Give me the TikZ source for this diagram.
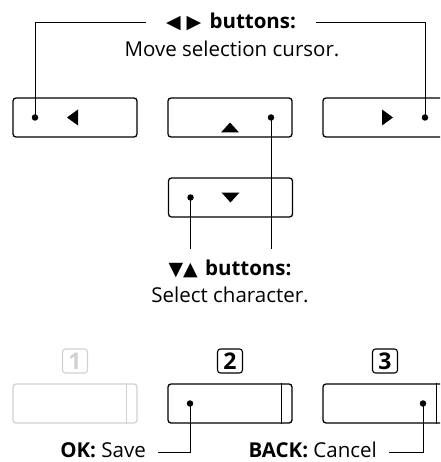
\documentclass[tikz,border=0pt]{standalone}
\usepackage{fontspec}
\setmainfont{Open Sans}
\newfontfamily\symfont{DejaVu Sans}
\definecolor{dimgrey}{gray}{0.82}
\tikzset{
  btn/.style={draw,line width=1.3pt,rounded corners=3pt,minimum width=124pt,minimum height=39pt,inner sep=0pt},
  dimbtn/.style={btn,draw=dimgrey},
  numkey/.style={draw,line width=1.1pt,rounded corners=3pt,minimum width=25pt,minimum height=24pt,inner sep=0pt,font=\fontsize{23}{23}\selectfont\bfseries},
  dot/.style={circle,fill,inner sep=0pt,minimum size=6.5pt},
  hdr/.style={font=\fontsize{20.5}{20.5}\selectfont\bfseries,anchor=base,inner xsep=20pt,inner ysep=10pt},
  lbl/.style={font=\fontsize{20.5}{20.5}\selectfont,anchor=base},
  conn/.style={line width=1pt}
}
\newcommand\tri[1]{{\symfont\fontsize{19}{19}\selectfont #1}}

\begin{document}
\begin{tikzpicture}[x=1pt,y=-1pt]
  \useasboundingbox (0,0) rectangle (440,462);
  \clip (0,0) rectangle (440,462);

  % cursor and character buttons
  \node[btn] (bL) at (75,117.5) {};
  \node[btn] (bU) at (230,117.5) {};
  \node[btn] (bR) at (385,117.5) {};
  \node[btn] (bD) at (230.5,197.5) {};
  \fill ([xshift=-8pt]bL.center) -- ++(11,-8) -- ++(0,16) -- cycle;
  \fill ([xshift=8pt]bR.center) -- ++(-11,-8) -- ++(0,16) -- cycle;
  \fill ([yshift=-5pt]bU.center) -- ++(-9,10) -- ++(18,0) -- cycle;
  \fill ([yshift=-5pt]bD.center) -- ++(-9,-10) -- ++(18,0) -- cycle;
  \node[dot] (dL) at ([xshift=-40pt]bL.center) {};
  \node[dot] (dU) at ([xshift=41pt]bU.center) {};
  \node[dot] (dR) at ([xshift=40pt]bR.center) {};
  \node[dot] (dD) at ([xshift=-40pt]bD.center) {};

  % labels
  \node[hdr] (hdrLR) at (231,29) {\tri{◀}\hspace{6pt}\tri{▶}\hspace{3pt} buttons:};
  \node[lbl] (txtLR) at (232,57) {Move selection cursor.};
  \node[hdr] (hdrUD) at (230,275) {\tri{▼▲}\hspace{2pt} buttons:};
  \node[lbl] (txtUD) at (230,302) {Select character.};

  \draw[conn] (dL.center) |- (hdrLR.west);
  \draw[conn] (dR.center) |- (hdrLR.east);
  \draw[conn] (dU.center) -- (dU |- hdrUD.north);
  \draw[conn] (dD.center) -- (dD |- hdrUD.north);

  % number keys
  \node[numkey,draw=dimgrey,text=dimgrey] (k1) at (75,361) {1};
  \node[numkey] (k2) at (230,361) {2};
  \node[numkey] (k3) at (385,361) {3};
  \node[dimbtn] (b1) at (75,403.5) {};
  \node[btn] (b2) at (230,403.5) {};
  \node[btn] (b3) at (385,403.5) {};
  \draw[line width=1.3pt,dimgrey] ([xshift=-11pt]b1.north east) -- ([xshift=-11pt]b1.south east);
  \foreach \b in {b2,b3}
    \draw[line width=1.3pt] ([xshift=-11pt]\b.north east) -- ([xshift=-11pt]\b.south east);
  \node[dot] (d2) at ([xshift=-40pt]b2.center) {};
  \node[dot] (d3) at ([xshift=38pt]b3.center) {};

  \node[lbl,anchor=base east,inner xsep=12pt] (okLbl) at (158,457) {\strut\textbf{OK:} Save};
  \node[lbl,anchor=base east,inner xsep=12pt] (backLbl) at (389,457) {\strut\textbf{BACK:} Cancel};
  \draw[conn] (d2.center) |- (okLbl.east);
  \draw[conn] (d3.center) |- (backLbl.east);
\end{tikzpicture}
\end{document}
